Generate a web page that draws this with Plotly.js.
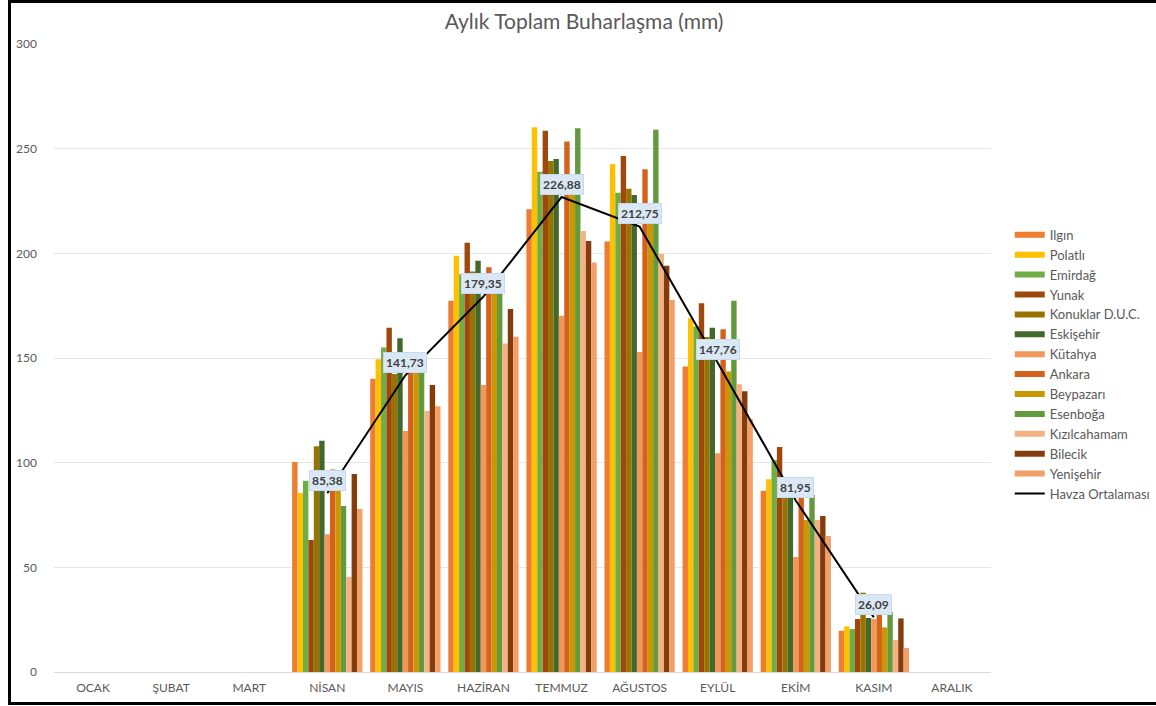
<!DOCTYPE html>
<html>
<head>
<meta charset="utf-8">
<script src="https://cdn.plot.ly/plotly-3.0.1.min.js"></script>
<style>
  body { margin: 0; background: #fff; overflow: hidden; }
  #chart { position: absolute; left: 8px; top: 0px; width: 1160px; height: 699px; border: 3px solid #000; }
</style>
</head>
<body>
<div id="chart"></div>
<script>
// Months
const months = ['OCAK', 'ŞUBAT', 'MART', 'NİSAN', 'MAYIS', 'HAZİRAN', 'TEMMUZ', 'AĞUSTOS', 'EYLÜL', 'EKİM', 'KASIM', 'ARALIK'];

// Station names and colours
const stations = ['Ilgın', 'Polatlı', 'Emirdağ', 'Yunak', 'Konuklar D.U.C.', 'Eskişehir', 'Kütahya',
                  'Ankara', 'Beypazarı', 'Esenboğa', 'Kızılcahamam', 'Bilecik', 'Yenişehir'];
const colors = ['#ED7D31', '#FFC000', '#70AD47', '#9E480E', '#997300', '#43682B', '#F1975A',
                '#D5621A', '#C99800', '#639A3E', '#F4B183', '#843C0C', '#F2A068'];

// Monthly totals (mm), null = no measurement
const ilgin        = [null, null, null, 100.3, 140.1, 177.4, 221.1, 205.6, 145.9, 86.6, 19.7, null];
const polatli      = [null, null, null, 85.5, 149.4, 198.8, 260.2, 242.7, 169.0, 92.1, 21.8, null];
const emirdag      = [null, null, null, 91.4, 155.0, 190.0, 239.0, 229.0, 165.0, 101.3, 20.5, null];
const yunak        = [null, null, null, 63.0, 164.5, 205.1, 258.6, 246.5, 176.2, 107.5, 25.3, null];
const konuklar     = [null, null, null, 107.8, 142.4, 191.3, 244.1, 230.8, 160.0, 85.0, 37.9, null];
const eskisehir    = [null, null, null, 110.5, 159.4, 196.5, 245.1, 227.9, 164.5, 83.3, 25.8, null];
const kutahya      = [null, null, null, 65.8, 115.1, 137.1, 170.2, 152.9, 104.5, 54.9, 25.3, null];
const ankara       = [null, null, null, 96.7, 148.0, 193.4, 253.4, 240.2, 163.7, 88.0, 30.0, null];
const beypazari    = [null, null, null, 89.0, 146.0, 186.0, 235.0, 218.0, 143.5, 72.6, 21.3, null];
const esenboga     = [null, null, null, 79.3, 147.0, 190.5, 259.8, 259.0, 177.4, 84.6, 28.7, null];
const kizilcahamam = [null, null, null, 45.4, 124.7, 156.9, 210.7, 199.7, 137.5, 72.6, 15.3, null];
const bilecik      = [null, null, null, 94.6, 137.1, 173.4, 205.9, 194.1, 134.1, 74.5, 25.6, null];
const yenisehir    = [null, null, null, 77.9, 127.0, 160.1, 195.6, 177.7, 121.0, 65.0, 11.5, null];

// Basin average
const havza = [null, null, null, 85.38, 141.73, 179.35, 226.88, 212.75, 147.76, 81.95, 26.09, null];

const series = [ilgin, polatli, emirdag, yunak, konuklar, eskisehir, kutahya,
                ankara, beypazari, esenboga, kizilcahamam, bilecik, yenisehir];

const fontFamily = 'Lato, "Open Sans", sans-serif';

// Bars (legend drawn by the dummy line traces below, to get Excel-like swatches)
const barTraces = series.map((vals, i) => ({
    x: months,
    y: vals,
    type: 'bar',
    name: stations[i],
    marker: {color: colors[i]},
    showlegend: false,
    hoverinfo: 'x+y+name'
}));

const legendTraces = stations.map((name, i) => ({
    x: [months[0]],
    y: [null],
    type: 'scatter',
    mode: 'lines',
    name: name,
    legendrank: i + 1,
    line: {color: colors[i], width: 6},
    hoverinfo: 'skip'
}));

const traceHavza = {
    x: months,
    y: havza,
    type: 'scatter',
    mode: 'lines',
    name: 'Havza Ortalaması',
    legendrank: 100,
    line: {color: '#000000', width: 2},
    connectgaps: false
};

// Data labels for the average line
const annotations = months
    .map((m, i) => ({m, v: havza[i]}))
    .filter(d => d.v !== null)
    .map(d => ({
        x: d.m,
        y: d.v,
        xref: 'x',
        yref: 'y',
        text: '<b>' + d.v.toFixed(2).replace('.', ',') + '</b>',
        showarrow: false,
        yshift: 13,
        bgcolor: '#DAE8F6',
        bordercolor: '#C5DAEF',
        borderwidth: 1,
        borderpad: 2,
        font: {family: fontFamily, size: 12, color: '#404040'}
    }));

const layout = {
    width: 1160,
    height: 699,
    margin: {l: 43, r: 180, t: 41, b: 30},
    paper_bgcolor: '#ffffff',
    plot_bgcolor: '#ffffff',
    font: {family: fontFamily, color: '#595959'},
    title: {
        text: 'Aylık Toplam Buharlaşma (mm)',
        font: {family: fontFamily, size: 21, color: '#595959'},
        xref: 'container',
        x: 0.494,
        xanchor: 'center',
        y: 0.973,
        yanchor: 'middle'
    },
    barmode: 'group',
    bargap: 0.1,
    bargroupgap: 0,
    xaxis: {
        type: 'category',
        tickfont: {size: 12, color: '#595959'},
        showgrid: false,
        showline: true,
        linecolor: '#D9D9D9',
        ticks: '',
        ticklabelstandoff: 5
    },
    yaxis: {
        range: [0, 300],
        tickvals: [0, 50, 100, 150, 200, 250, 300],
        tickfont: {size: 12, color: '#595959'},
        gridcolor: '#E6E6E6',
        gridwidth: 1,
        zeroline: true,
        zerolinecolor: '#D9D9D9',
        showline: false,
        ticks: '',
        ticklabelstandoff: 16
    },
    legend: {
        x: 1.02,
        xanchor: 'left',
        y: 0.72,
        yanchor: 'top',
        traceorder: 'normal',
        font: {family: fontFamily, size: 13, color: '#595959'},
        bgcolor: 'rgba(0,0,0,0)',
        tracegroupgap: 0
    },
    annotations: annotations,
    showlegend: true
};

Plotly.newPlot('chart', [...barTraces, ...legendTraces, traceHavza], layout, {displayModeBar: false, staticPlot: true});
</script>
</body>
</html>
